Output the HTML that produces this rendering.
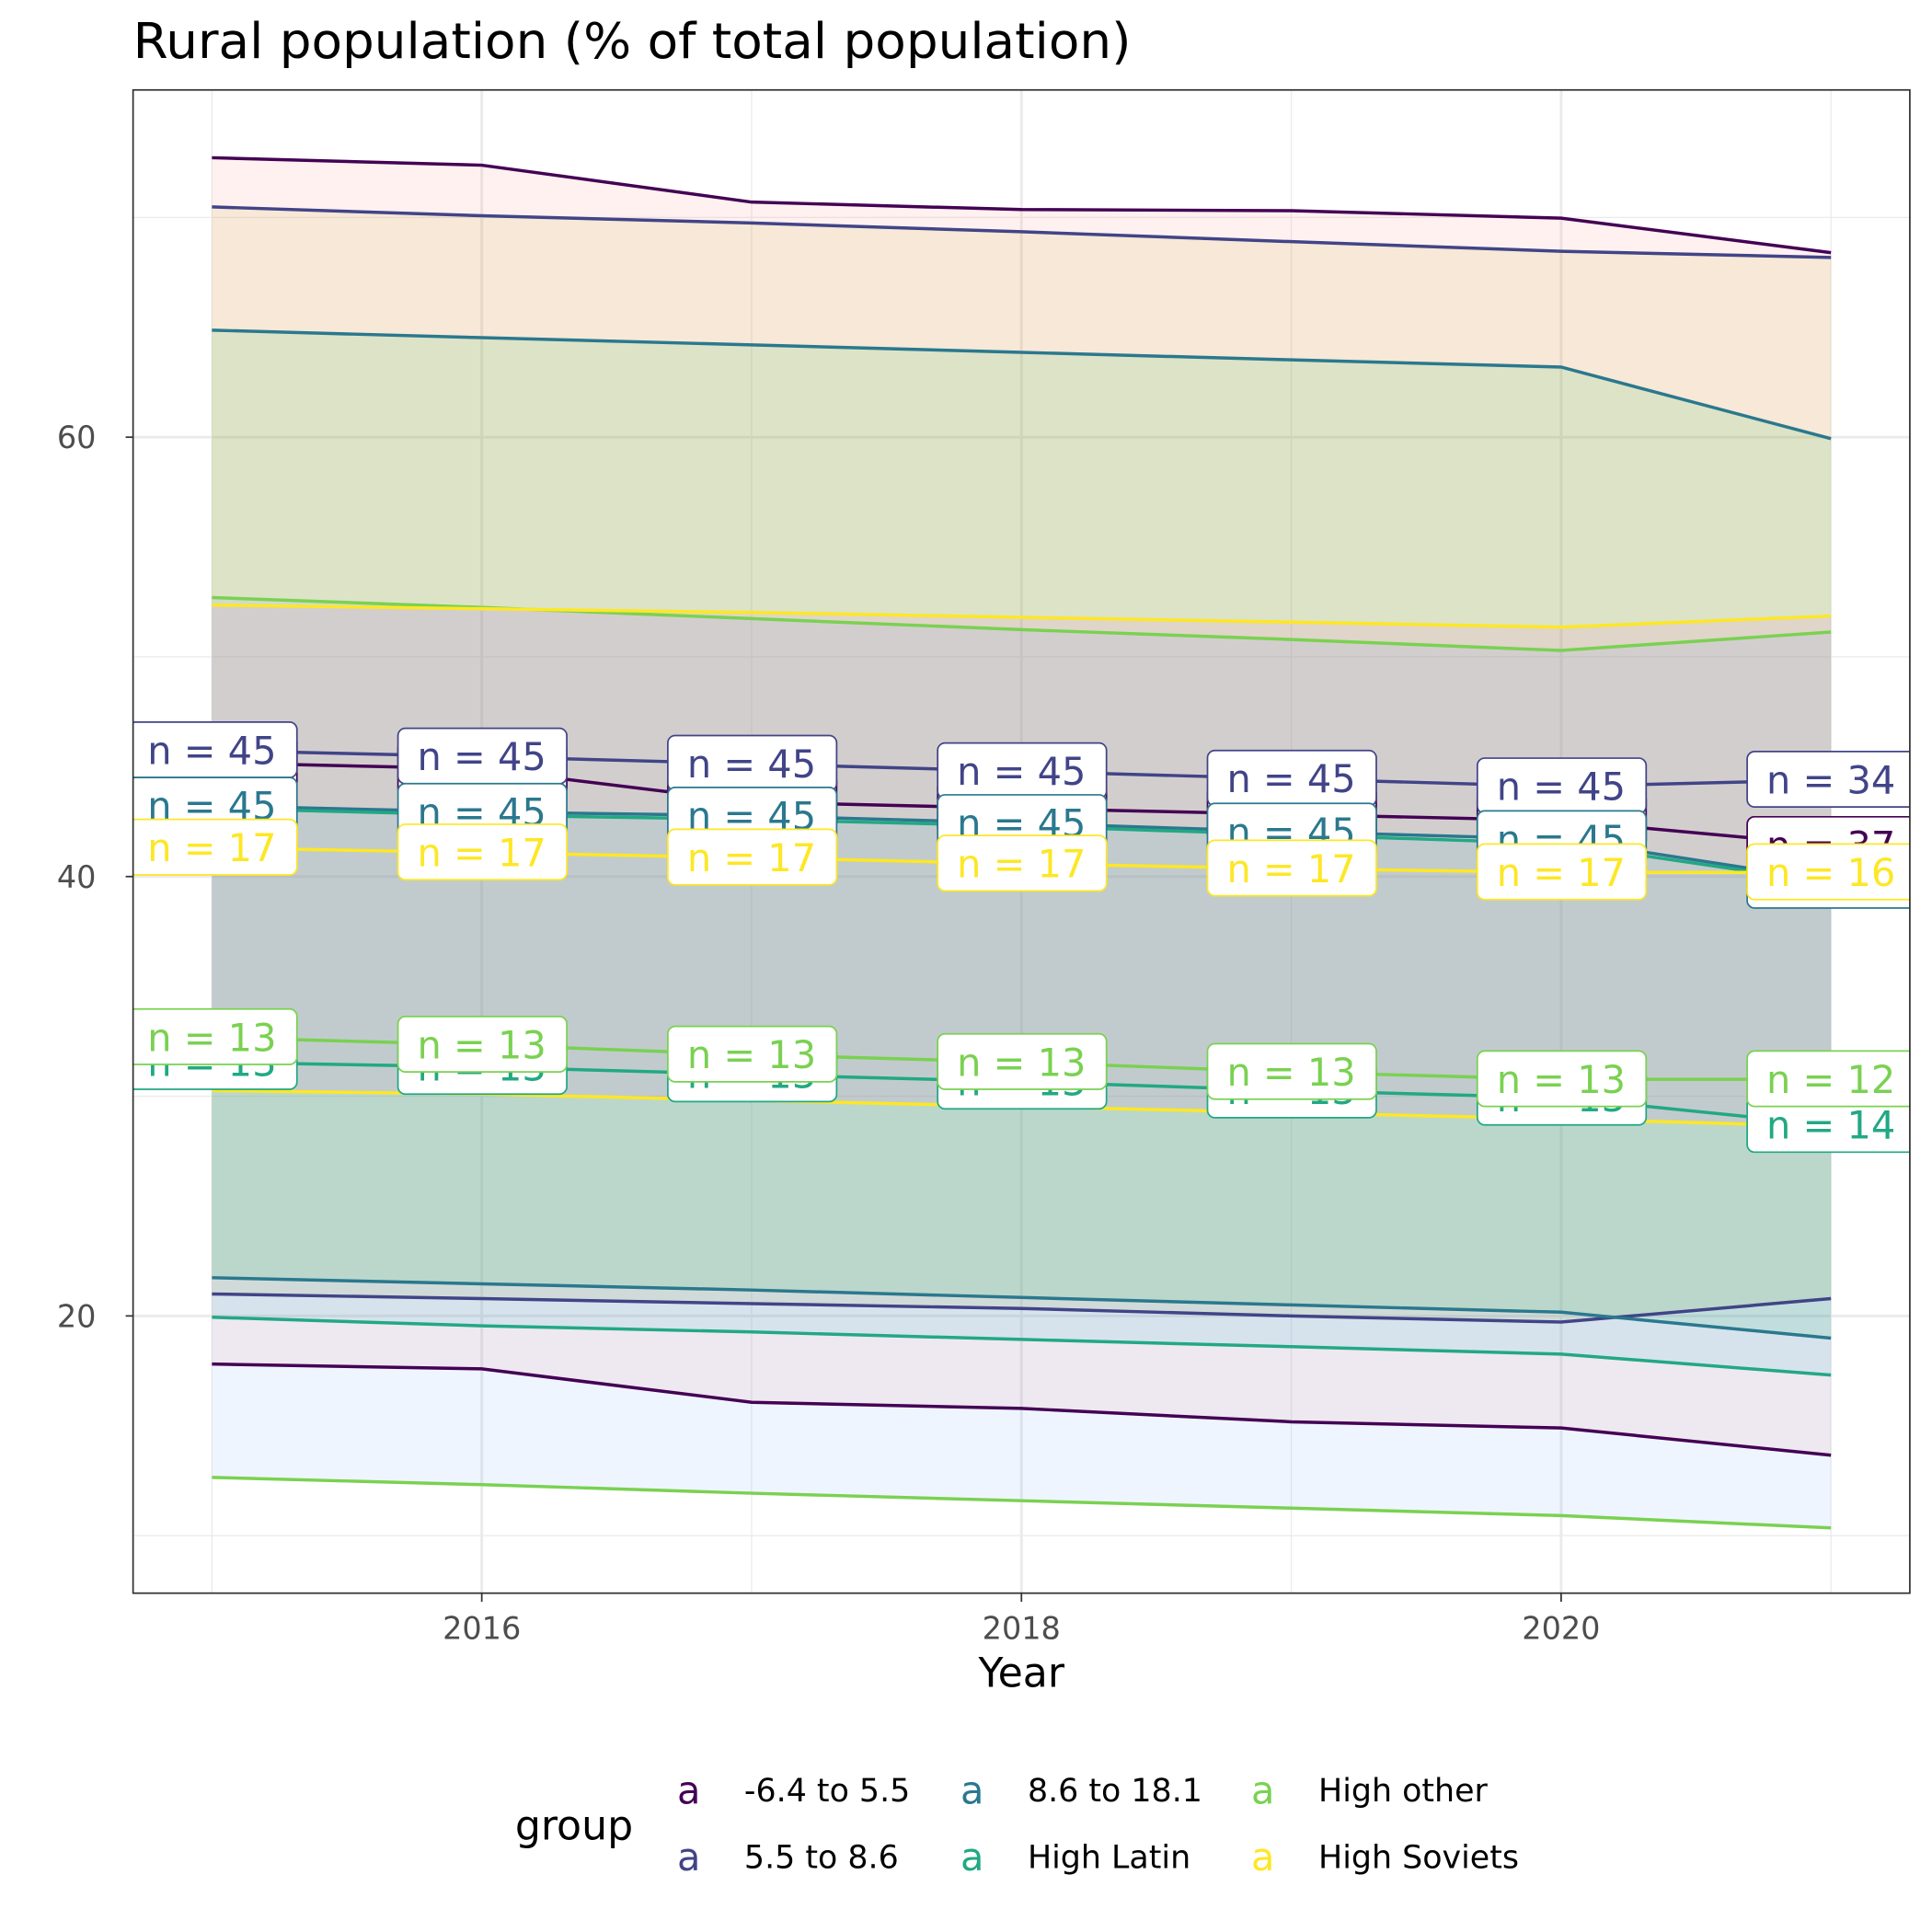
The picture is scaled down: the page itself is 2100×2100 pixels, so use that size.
<!DOCTYPE html>
<html><head><meta charset="utf-8"><style>html,body{margin:0;padding:0;background:#fff}svg{display:block;font-family:"DejaVu Sans","Liberation Sans",sans-serif}</style></head>
<body>
<svg id="chart" xmlns="http://www.w3.org/2000/svg" width="2100" height="2100" viewBox="0 0 1568 1568">
<rect width="1568" height="1568" fill="#fff"/>
<text x="108" y="47" font-size="40" textLength="810" lengthAdjust="spacingAndGlyphs" fill="#000">Rural population (% of total population)</text>
<g id="grid"></g>
<defs><clipPath id="pc"><rect x="108" y="73" width="1442" height="1220"/></clipPath></defs>
<g id="ribbons" clip-path="url(#pc)"></g>
<g id="lines" clip-path="url(#pc)"></g>
<g id="labels" clip-path="url(#pc)"></g>
<rect x="108" y="73" width="1442" height="1220" fill="none" stroke="#333" stroke-width="1.3"/>
<g id="axes"></g>
<text x="829" y="1369" font-size="33" text-anchor="middle" fill="#000">Year</text>
<g id="legend"></g>
<script>
const years = [2015, 2016, 2017, 2018, 2019, 2020, 2021];
const groupNames = ["-6.4 to 5.5", "5.5 to 8.6", "8.6 to 18.1", "High Latin", "High other", "High Soviets"];
const hiG1 = [72.72, 72.38, 70.7, 70.36, 70.31, 69.97, 68.4];
const medG1 = [45.18, 44.9, 43.39, 43.1, 42.83, 42.55, 41.43];
const loG1 = [17.81, 17.59, 16.07, 15.79, 15.18, 14.9, 13.66];
const hiG2 = [70.48, 70.08, 69.75, 69.35, 68.9, 68.46, 68.18];
const medG2 = [45.74, 45.46, 45.13, 44.79, 44.45, 44.1, 44.4];
const loG2 = [21.0, 20.79, 20.56, 20.34, 20.0, 19.72, 20.79];
const hiG3 = [64.87, 64.53, 64.2, 63.86, 63.52, 63.19, 59.93];
const medG3 = [43.22, 42.94, 42.77, 42.43, 42.04, 41.7, 39.8];
const loG3 = [21.74, 21.46, 21.18, 20.84, 20.5, 20.17, 18.99];
const hiG4 = [43.1, 42.8, 42.6, 42.3, 41.9, 41.5, 39.7];
const medG4 = [31.55, 31.33, 30.99, 30.66, 30.26, 29.93, 28.69];
const loG4 = [19.94, 19.55, 19.27, 18.93, 18.6, 18.26, 17.31];
const hiG5 = [52.7, 52.25, 51.74, 51.24, 50.79, 50.29, 51.13];
const medG5 = [32.68, 32.34, 31.89, 31.55, 31.1, 30.77, 30.77];
const loG5 = [12.65, 12.32, 11.93, 11.59, 11.25, 10.91, 10.35];
const hiG6 = [52.36, 52.19, 52.02, 51.8, 51.58, 51.35, 51.86];
const medG6 = [41.31, 41.09, 40.86, 40.58, 40.36, 40.19, 40.19];
const loG6 = [30.26, 30.1, 29.81, 29.53, 29.25, 28.97, 28.63];
const nG1 = [45, 45, 45, 45, 45, 45, 37];
const nG2 = [45, 45, 45, 45, 45, 45, 34];
const nG3 = [45, 45, 45, 45, 45, 45, 37];
const nG4 = [13, 13, 13, 13, 13, 13, 14];
const nG5 = [13, 13, 13, 13, 13, 13, 12];
const nG6 = [17, 17, 17, 17, 17, 17, 16];
const yTicks = [20, 40, 60];
const yMinor = [10, 30, 50, 70];
const xTicks = [2016, 2018, 2020];
const xMinor = [2015, 2017, 2019, 2021];

const his=[hiG1,hiG2,hiG3,hiG4,hiG5,hiG6], meds=[medG1,medG2,medG3,medG4,medG5,medG6], los=[loG1,loG2,loG3,loG4,loG5,loG6], ns=[nG1,nG2,nG3,nG4,nG5,nG6];
const lineCols=["#440154","#414487","#2A788E","#22A884","#7AD151","#FDE725"];
const fillCols=["#F8766D","#B79F00","#00BA38","#00BFC4","#619CFF","#F564E3"];
const X=v=>172+(v-2015)*219;
const Y=v=>1068-(v-20)*17.83;
const NS="http://www.w3.org/2000/svg";
function mk(tag,attrs,parent){const e=document.createElementNS(NS,tag);for(const k in attrs)e.setAttribute(k,attrs[k]);parent.appendChild(e);return e;}
const grid=document.getElementById('grid');
mk('rect',{x:108,y:73,width:1442,height:1220,fill:'#fff'},grid);
yMinor.forEach(v=>{const l=mk('line',{x1:108,x2:1550,y1:Y(v),y2:Y(v),stroke:'#ebebeb','stroke-width':1},grid);

});
xMinor.forEach(v=>{const l=mk('line',{x1:X(v),x2:X(v),y1:73,y2:1293,stroke:'#ebebeb','stroke-width':1},grid);

});
yTicks.forEach(v=>{const l=mk('line',{x1:108,x2:1550,y1:Y(v),y2:Y(v),stroke:'#ebebeb','stroke-width':2.2},grid);

});
xTicks.forEach(v=>{const l=mk('line',{x1:X(v),x2:X(v),y1:73,y2:1293,stroke:'#ebebeb','stroke-width':2.2},grid);

});
const rib=document.getElementById('ribbons'), lin=document.getElementById('lines'), lab=document.getElementById('labels');
for(let g=0;g<6;g++){
  let d='M'+years.map((y,i)=>X(y)+','+Y(his[g][i])).join('L')+'L'+years.slice().reverse().map((y,j)=>X(y)+','+Y(los[g][6-j])).join('L')+'Z';
  const p=mk('path',{d:d,fill:fillCols[g],'fill-opacity':0.1},rib);
  
  
}
for(let g=0;g<6;g++){
  [his[g],meds[g],los[g]].forEach((arr,k)=>{
    const p=mk('polyline',{points:years.map((y,i)=>X(y)+','+Y(arr[i])).join(' '),fill:'none',stroke:lineCols[g],'stroke-width':2.6},lin);
    
    
  });
}
for(let g=0;g<6;g++){
  years.forEach((y,i)=>{
    const cx=X(y), cy=Y(meds[g][i]);
    const grp=mk('g',{},lab);
    
    
    mk('rect',{x:cx-68,y:cy-23,width:137,height:45,rx:6,fill:'#fff',stroke:lineCols[g],'stroke-width':1.3},grp);
    const t=mk('text',{x:cx,y:cy+11,'font-size':31,'text-anchor':'middle',fill:lineCols[g]},grp);
    t.textContent='n = '+ns[g][i];
  });
}
const ax=document.getElementById('axes');
yTicks.forEach(v=>{mk('line',{x1:102,x2:108,y1:Y(v),y2:Y(v),stroke:'#333','stroke-width':1.3},ax);
  const t=mk('text',{x:78,y:Y(v)+9,'font-size':25,'text-anchor':'end',fill:'#4d4d4d'},ax);
  
  
  t.textContent=v;});
xTicks.forEach(v=>{mk('line',{x1:X(v),x2:X(v),y1:1293,y2:1300,stroke:'#333','stroke-width':1.3},ax);
  const t=mk('text',{x:X(v),y:1330,'font-size':25,'text-anchor':'middle',fill:'#4d4d4d'},ax);
  
  
  t.textContent=v;});
const lg=document.getElementById('legend');
const lt=mk('text',{x:418,y:1493,'font-size':33,fill:'#000'},lg);


lt.textContent='group';
const colX=[559,789,1025], rowY=[1453,1507];
for(let g=0;g<6;g++){
  const c=g>>1, r=g%2;
  const e=mk('g',{},lg);
  
  
  const k=mk('text',{x:colX[c],y:rowY[r]+11,'font-size':31,'text-anchor':'middle',fill:lineCols[g]},e);
  k.textContent='a';
  const t=mk('text',{x:colX[c]+45,y:rowY[r]+9,'font-size':26,fill:'#000'},e);
  t.textContent=groupNames[g];
}
</script>
</svg>
</body></html>
